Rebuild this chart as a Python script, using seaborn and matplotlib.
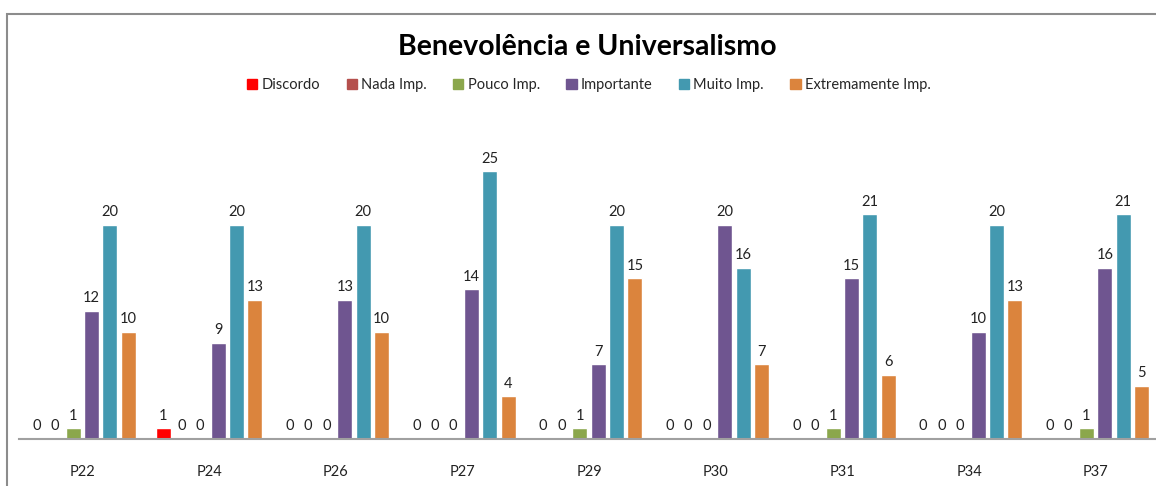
import pandas as pd
import seaborn as sns
import matplotlib.pyplot as plt
from matplotlib.patches import Rectangle

# Dados
categorias = ['P22', 'P24', 'P26', 'P27', 'P29', 'P30', 'P31', 'P34', 'P37']
respostas = ['Discordo', 'Nada Imp.', 'Pouco Imp.', 'Importante', 'Muito Imp.', 'Extremamente Imp.']
discordo = [0, 1, 0, 0, 0, 0, 0, 0, 0]
nada_imp = [0, 0, 0, 0, 0, 0, 0, 0, 0]
pouco_imp = [1, 0, 0, 0, 1, 0, 1, 0, 1]
importante = [12, 9, 13, 14, 7, 20, 15, 10, 16]
muito_imp = [20, 20, 20, 25, 20, 16, 21, 20, 21]
extremamente_imp = [10, 13, 10, 4, 15, 7, 6, 13, 5]
cores = ['#FF0000', '#B5504D', '#8BA74C', '#6F5590', '#4399B0', '#DB843D']

series = [discordo, nada_imp, pouco_imp, importante, muito_imp, extremamente_imp]
df = pd.DataFrame(
    [(cat, resp, vals[i]) for resp, vals in zip(respostas, series) for i, cat in enumerate(categorias)],
    columns=['categoria', 'resposta', 'valor'],
)

sns.set_theme(style='white')
plt.rcParams['font.family'] = ['Lato', 'DejaVu Sans']

fig = plt.figure(figsize=(11.56, 4.86), dpi=100)
W, H = 1156, 486
ax = fig.add_axes([19 / W, (H - 439) / H, 1140 / W, (439 - 118) / H])

sns.barplot(
    data=df, x='categoria', y='valor', hue='resposta',
    order=categorias, hue_order=respostas,
    palette=dict(zip(respostas, cores)),
    width=0.87, gap=0.18, saturation=1, legend=False, ax=ax,
)

for cont in ax.containers:
    ax.bar_label(cont, fmt='%g', padding=4, fontsize=10.5, color='#222222')

ax.set_xlim(-0.5, 8.5)
ax.set_ylim(0, 30)
ax.set_xlabel('')
ax.set_ylabel('')
ax.set_yticks([])
ax.tick_params(axis='x', length=0, labelsize=10.5, pad=19)
for lbl in ax.get_xticklabels():
    lbl.set_color('#222222')
for side in ['left', 'right', 'top']:
    ax.spines[side].set_visible(False)
ax.spines['bottom'].set_color('#A0A0A0')
ax.spines['bottom'].set_linewidth(1.5)

# Título e legenda
fig.text(587 / W, (H - 47) / H, 'Benevolência e Universalismo', ha='center', va='center',
         fontsize=20.5, fontweight='bold', color='black')
handles = [Rectangle((0, 0), 1, 1, color=c) for c in cores]
fig.legend(handles, respostas, loc='center', bbox_to_anchor=(589 / W, (H - 85) / H),
           ncol=6, frameon=False, fontsize=10.5, handlelength=0.7, handleheight=0.7,
           handletextpad=0.3, columnspacing=1.8)

# Moldura do gráfico
fig.patches.append(Rectangle((7 / W, -0.1), 1.2, (H - 14) / H + 0.1, transform=fig.transFigure,
                             fill=False, edgecolor='#8C8C8C', linewidth=1.5))

plt.savefig('out.png', dpi=100)
plt.close()
